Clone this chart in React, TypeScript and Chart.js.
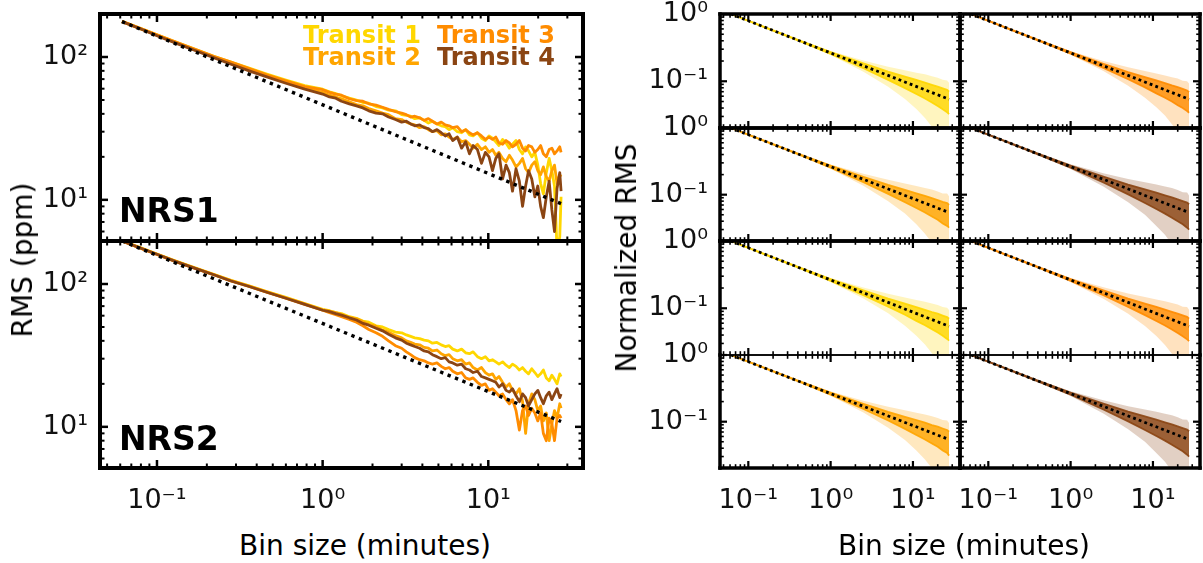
import React, { useEffect, useRef } from "react";
import { Chart, registerables } from "chart.js";

Chart.register(...registerables);

const FONT = "'DejaVu Sans', 'Liberation Sans', sans-serif";

// ---------------- data ----------------
const BIN_MIN = [
  0.0615, 0.08, 0.1, 0.13, 0.17, 0.22, 0.28, 0.36, 0.46, 0.6, 0.78, 1.0,
  1.1, 1.2, 1.3, 1.45, 1.6, 1.75, 1.9, 2.1, 2.3, 2.5, 2.75, 3.0,
  3.2, 3.4, 3.6, 3.85, 4.1, 4.35, 4.6, 4.9, 5.2, 5.5, 5.8, 6.1, 6.5, 6.9, 7.3, 7.7, 8.1, 8.6, 9.1, 9.6, 10.1,
  10.6, 11.1, 11.6, 12.2, 12.8, 13.4, 14.0, 14.7, 15.4, 16.1, 16.8, 17.5, 18.3, 19.1, 19.9, 20.7, 21.5, 22.4, 23.3, 24.2, 25.1, 26.0, 27.0, 27.5,
];

const NRS1_TRANSIT1 = [
  178, 158, 143, 127, 113, 101, 92, 83.5, 76, 69, 63, 59.5,
  57, 55.5, 53.5, 51.5, 50, 48, 47.5, 45, 44, 42.5, 42, 39.5,
  39, 38.5, 37, 37.5, 36, 34.5, 35.5, 34, 33, 32.5, 31, 32, 30, 29.5, 31, 28.5, 28, 29.5, 27, 26, 28,
  27, 25.5, 24, 26.5, 25, 23, 24.5, 26, 22.5, 21, 23.5, 22, 20, 21.5, 17.5, 13, 11, 15.5, 19.5, 16, 12.5, 4.5, 5.5, 10.5,
];
const NRS1_TRANSIT2 = [
  177, 157, 142, 126, 112, 100, 90, 81.5, 73.5, 66.5, 60.5, 56.5,
  54, 52.5, 51, 48.5, 46.5, 45.5, 43.5, 42, 40.5, 39.5, 37, 36.5,
  35, 34, 33.5, 32, 32.5, 31, 30, 30.5, 28.5, 29, 27.5, 26.5, 27.5, 25.5, 26, 24.5, 23, 24.5, 22.5, 23.5, 21.5,
  22.5, 20.5, 21.5, 19.5, 18.5, 20.5, 19, 17, 18, 19.5, 16.5, 15.5, 17.5, 18.5, 16, 15, 17, 14.5, 13.5, 16, 17.5, 13, 15, 14.5,
];
const NRS1_TRANSIT3 = [
  178, 158, 143, 127, 113, 101, 92, 83, 75, 68, 62, 59,
  56.5, 55, 54, 51, 49.5, 49, 47, 46, 44.5, 43, 41.5, 40.5,
  39.5, 38, 38.5, 37.5, 36, 37, 35.5, 34, 35, 33.5, 33, 32, 32.5, 30, 31, 29.5, 28.5, 29.5, 28, 26.5, 27.5,
  26.5, 27.5, 25, 24.5, 26, 25, 23.5, 24.5, 26, 23, 22, 24, 23.5, 21.5, 22.5, 24, 21, 20, 22.5, 23, 21, 22, 23.5, 21.5,
];
const NRS1_TRANSIT4 = [
  177, 157, 141, 125, 111, 99, 89, 80, 72.5, 65.5, 59.5, 55,
  52.5, 51.5, 49, 47, 45.5, 44, 42, 40.5, 40, 38, 36.5, 35,
  35.5, 34, 33, 33.5, 32, 31.5, 30, 31, 29.5, 28, 29, 26, 27.5, 23, 25.5, 21, 24, 22.5, 18, 21.5, 20,
  16, 19.5, 21, 14, 17.5, 15.5, 11.5, 16.5, 13.5, 9, 12.5, 16, 14, 10.5, 12.5, 9, 7.5, 10.5, 13.5, 8.5, 6, 12, 15.5, 11.5,
];

const NRS2_TRANSIT1 = [
  201, 179, 162, 145, 130, 117, 106, 97, 88.5, 80.5, 73, 66.5,
  65, 63, 62, 59, 57.5, 55, 54, 51, 50, 48, 46, 45.5,
  44, 43, 42, 41.5, 40.5, 40, 38.5, 39, 37.5, 36.5, 37, 35, 34, 35, 33, 32.5, 33.5, 31, 30, 31, 29,
  29.5, 28.5, 27.5, 28.5, 27, 26, 27.5, 26.5, 25, 26, 24.5, 23.5, 25.5, 24, 22.5, 23.5, 25, 22, 21, 23, 21.5, 20, 23.5, 22.5,
];
const NRS2_TRANSIT2 = [
  200, 178, 161.5, 144, 129, 116.5, 105.5, 96.5, 88, 80, 72.5, 66,
  64.5, 63, 61, 58.5, 57, 54.5, 52, 50.5, 47.5, 46, 43.5, 42,
  40, 39, 38, 37.5, 36, 35.5, 34, 34.5, 32.5, 31.5, 32, 30, 29, 29.5, 27.5, 28, 26, 25, 26, 24, 23,
  23.5, 21.5, 22.5, 20.5, 19, 20, 18, 17, 18.5, 15, 9, 14.5, 17, 15.5, 13, 14, 11, 12.5, 8, 10.5, 13, 11.5, 14.5, 13.5,
];
const NRS2_TRANSIT3 = [
  200, 177.5, 161, 143.5, 128.5, 116, 105, 96, 87.5, 79.5, 72, 65.5,
  63, 61, 59, 56.5, 54, 51, 48, 45.5, 43, 40, 37, 35.5,
  33.5, 32, 30.5, 29.5, 29, 28, 27.5, 28, 26.5, 25.5, 26, 24.5, 23.5, 24, 22, 21.5, 22, 20.5, 19.5, 20, 18,
  18.5, 17.5, 16.5, 17, 15.5, 14.5, 15.5, 13, 9.5, 13, 14, 12, 13.5, 12.5, 11, 12.5, 9, 8, 11.5, 10.5, 8, 11.5, 12, 11.5,
];
const NRS2_TRANSIT4 = [
  200, 178, 161.5, 143.5, 128.5, 116, 105, 96, 87.5, 79.5, 72, 65.5,
  64, 62, 60.5, 58, 56, 53, 51.5, 49, 47, 44.5, 42, 40.5,
  38.5, 37.5, 36.5, 35.5, 34, 33.5, 32, 31, 30, 30.5, 28.5, 28, 27, 27.5, 25.5, 25, 24, 24.5, 22.5, 22, 21.5,
  21, 20.5, 19, 20, 18, 17.5, 18.5, 16.5, 15, 17, 16, 14, 15.5, 17, 18, 16, 14.5, 16.5, 17.5, 15.5, 17, 18.5, 16, 17,
];

// white-noise expectation (dotted)
const WHITE_BIN = [0.0615, 27.5];
const NRS1_WHITE = [177, 9.4];
const NRS2_WHITE = [200, 10.9];
const NORM_WHITE = [1, 0.054];

// spectroscopic channels: envelope of the normalized RMS curves
const SPEC_BIN = [0.0615, 0.15, 0.4, 1, 2.5, 5, 8, 11, 14, 17, 20, 23, 26, 27.5];

const NRS1_T1_OUTER_HI = [1, 0.66, 0.421, 0.282, 0.204, 0.165, 0.146, 0.134, 0.127, 0.119, 0.113, 0.105, 0.103, 0.095];
const NRS1_T1_CORE_HI = [1, 0.656, 0.413, 0.272, 0.184, 0.139, 0.117, 0.105, 0.0956, 0.0885, 0.0832, 0.0783, 0.0745, 0.0703];
const NRS1_T1_CORE_LO = [1, 0.65, 0.405, 0.256, 0.156, 0.105, 0.079, 0.0646, 0.0553, 0.0484, 0.0428, 0.0383, 0.0345, 0.0325];
const NRS1_T1_OUTER_LO = [1, 0.646, 0.397, 0.246, 0.139, 0.083, 0.0547, 0.0386, 0.0284, 0.0211, 0.0158, 0.0118, 0.0083, 0.0065];

const NRS1_T3_OUTER_HI = [1, 0.659, 0.42, 0.28, 0.2, 0.162, 0.142, 0.13, 0.122, 0.115, 0.11, 0.102, 0.1, 0.092];
const NRS1_T3_CORE_HI = [1, 0.656, 0.413, 0.271, 0.182, 0.137, 0.115, 0.103, 0.094, 0.087, 0.082, 0.077, 0.073, 0.069];
const NRS1_T3_CORE_LO = [1, 0.65, 0.405, 0.257, 0.158, 0.107, 0.081, 0.066, 0.057, 0.05, 0.044, 0.04, 0.036, 0.034];
const NRS1_T3_OUTER_LO = [1, 0.647, 0.398, 0.248, 0.142, 0.086, 0.057, 0.041, 0.031, 0.023, 0.018, 0.013, 0.0095, 0.0075];

const NRS1_T2_OUTER_HI = [1, 0.66, 0.422, 0.283, 0.206, 0.167, 0.147, 0.135, 0.126, 0.12, 0.112, 0.104, 0.104, 0.094];
const NRS1_T2_CORE_HI = [1, 0.656, 0.413, 0.272, 0.185, 0.14, 0.118, 0.105, 0.096, 0.089, 0.083, 0.078, 0.075, 0.0705];
const NRS1_T2_CORE_LO = [1, 0.65, 0.404, 0.255, 0.154, 0.103, 0.077, 0.063, 0.054, 0.047, 0.042, 0.037, 0.034, 0.032];
const NRS1_T2_OUTER_LO = [1, 0.645, 0.396, 0.244, 0.136, 0.08, 0.052, 0.036, 0.026, 0.019, 0.0145, 0.011, 0.008, 0.006];

const NRS1_T4_OUTER_HI = [1, 0.661, 0.424, 0.287, 0.21, 0.172, 0.153, 0.142, 0.133, 0.126, 0.118, 0.109, 0.108, 0.097];
const NRS1_T4_CORE_HI = [1, 0.657, 0.414, 0.274, 0.187, 0.142, 0.12, 0.107, 0.098, 0.091, 0.085, 0.08, 0.076, 0.072];
const NRS1_T4_CORE_LO = [1, 0.649, 0.403, 0.254, 0.152, 0.101, 0.075, 0.061, 0.052, 0.045, 0.04, 0.036, 0.032, 0.03];
const NRS1_T4_OUTER_LO = [1, 0.644, 0.394, 0.242, 0.133, 0.077, 0.05, 0.034, 0.025, 0.018, 0.014, 0.0105, 0.0075, 0.006];

const NRS2_T1_OUTER_HI = [1, 0.66, 0.421, 0.281, 0.203, 0.164, 0.145, 0.133, 0.125, 0.118, 0.112, 0.104, 0.102, 0.094];
const NRS2_T1_CORE_HI = [1, 0.656, 0.413, 0.272, 0.184, 0.139, 0.117, 0.104, 0.095, 0.088, 0.083, 0.078, 0.074, 0.07];
const NRS2_T1_CORE_LO = [1, 0.65, 0.405, 0.256, 0.157, 0.106, 0.08, 0.065, 0.056, 0.049, 0.0435, 0.039, 0.035, 0.033];
const NRS2_T1_OUTER_LO = [1, 0.646, 0.397, 0.246, 0.14, 0.084, 0.055, 0.039, 0.029, 0.0215, 0.016, 0.012, 0.0085, 0.0065];

const NRS2_T3_OUTER_HI = [1, 0.66, 0.421, 0.282, 0.205, 0.166, 0.147, 0.135, 0.127, 0.12, 0.114, 0.105, 0.104, 0.095];
const NRS2_T3_CORE_HI = [1, 0.656, 0.413, 0.272, 0.184, 0.139, 0.117, 0.105, 0.0956, 0.0885, 0.0832, 0.0783, 0.0745, 0.0703];
const NRS2_T3_CORE_LO = [1, 0.65, 0.405, 0.256, 0.156, 0.105, 0.079, 0.0646, 0.0553, 0.0484, 0.0428, 0.0383, 0.0345, 0.0325];
const NRS2_T3_OUTER_LO = [1, 0.646, 0.397, 0.246, 0.139, 0.083, 0.0547, 0.0386, 0.0284, 0.0211, 0.0158, 0.0118, 0.0083, 0.0065];

const NRS2_T2_OUTER_HI = [1, 0.66, 0.422, 0.283, 0.206, 0.167, 0.148, 0.136, 0.128, 0.121, 0.114, 0.106, 0.104, 0.095];
const NRS2_T2_CORE_HI = [1, 0.656, 0.413, 0.273, 0.185, 0.14, 0.118, 0.106, 0.097, 0.089, 0.084, 0.079, 0.075, 0.071];
const NRS2_T2_CORE_LO = [1, 0.65, 0.404, 0.255, 0.155, 0.104, 0.078, 0.063, 0.054, 0.047, 0.042, 0.037, 0.034, 0.031];
const NRS2_T2_OUTER_LO = [1, 0.645, 0.396, 0.244, 0.137, 0.081, 0.053, 0.037, 0.027, 0.02, 0.015, 0.011, 0.008, 0.006];

const NRS2_T4_OUTER_HI = [1, 0.661, 0.423, 0.286, 0.209, 0.171, 0.152, 0.141, 0.132, 0.125, 0.117, 0.108, 0.107, 0.096];
const NRS2_T4_CORE_HI = [1, 0.657, 0.414, 0.274, 0.187, 0.142, 0.12, 0.107, 0.098, 0.091, 0.085, 0.08, 0.076, 0.072];
const NRS2_T4_CORE_LO = [1, 0.649, 0.403, 0.254, 0.152, 0.101, 0.075, 0.061, 0.052, 0.045, 0.04, 0.036, 0.032, 0.03];
const NRS2_T4_OUTER_LO = [1, 0.644, 0.394, 0.242, 0.133, 0.077, 0.05, 0.034, 0.025, 0.018, 0.014, 0.0105, 0.0075, 0.006];

const TRANSIT_NAMES = ["Transit 1", "Transit 2", "Transit 3", "Transit 4"];
const TRANSIT_COLORS = ["#FFD700", "#FFA500", "#FF8C00", "#8B4513"];

const X_TICKS = [0.1, 1, 10];
const X_TICK_LABELS = ["10\u207B\u00B9", "10\u2070", "10\u00B9"];
const RMS_Y_TICKS = [10, 100];
const RMS_Y_TICK_LABELS = ["10\u00B9", "10\u00B2"];
const NORM_Y_TICKS = [0.1, 1];
const NORM_Y_TICK_LABELS = ["10\u207B\u00B9", "10\u2070"];

const X_RANGE = [0.0453, 37.3];
const RMS_Y_RANGE = [5.15, 200];
const NORM_Y_RANGE = [0.0202, 1.0];

// ---------------- layout ----------------
const AXIS_W = 110;
const AXIS_H = 60;
const PAD_T = 40;
const PAD_R = 30;
const TICK_FONT = 27;

type Rect = { l: number; t: number; r: number; b: number };
type AxStyle = {
  spine: { top: number; right: number; bottom: number; left: number };
  majLen: number;
  minLen: number;
  majW: number;
  minW: number;
};

function pts(xs: number[], ys: number[]) {
  return xs.map((x, i) => ({ x, y: ys[i] }));
}

function rgba(hex: string, a: number) {
  const n = parseInt(hex.slice(1), 16);
  return `rgba(${(n >> 16) & 255},${(n >> 8) & 255},${n & 255},${a})`;
}

function logTicks(min: number, max: number) {
  const out: { v: number; major: boolean }[] = [];
  for (let e = Math.floor(Math.log10(min)); e <= Math.ceil(Math.log10(max)); e++) {
    for (let k = 1; k <= 9; k++) {
      const v = k * Math.pow(10, e);
      if (v >= min * 0.999 && v <= max * 1.001) out.push({ v, major: k === 1 });
    }
  }
  return out;
}

const mplAxes = {
  id: "mplAxes",
  afterDatasetsDraw(chart: any, _args: any, o: any) {
    const { ctx, chartArea: a } = chart;
    const xs = chart.scales.x;
    const ys = chart.scales.y;
    ctx.save();
    ctx.strokeStyle = "#000";
    const seg = (x1: number, y1: number, x2: number, y2: number, w: number) => {
      if (w <= 0) return;
      ctx.lineWidth = w;
      ctx.beginPath();
      ctx.moveTo(x1, y1);
      ctx.lineTo(x2, y2);
      ctx.stroke();
    };
    ctx.lineCap = "butt";
    for (const t of logTicks(xs.min, xs.max)) {
      const p = xs.getPixelForValue(t.v);
      const L = t.major ? o.majLen : o.minLen;
      const w = t.major ? o.majW : o.minW;
      seg(p, a.bottom, p, a.bottom - L, w);
      seg(p, a.top, p, a.top + L, w);
    }
    for (const t of logTicks(ys.min, ys.max)) {
      const p = ys.getPixelForValue(t.v);
      const L = t.major ? o.majLen : o.minLen;
      const w = t.major ? o.majW : o.minW;
      seg(a.left, p, a.left + L, p, w);
      seg(a.right, p, a.right - L, p, w);
    }
    ctx.lineCap = "square";
    const s = o.spine;
    seg(a.left, a.top, a.right, a.top, s.top);
    seg(a.left, a.bottom, a.right, a.bottom, s.bottom);
    seg(a.left, a.top, a.left, a.bottom, s.left);
    seg(a.right, a.top, a.right, a.bottom, s.right);
    ctx.restore();
  },
};

type PanelSpec = {
  key: string;
  rect: Rect;
  datasets: any[];
  yRange: number[];
  yTicks: number[];
  yLabels: string[] | null;
  xLabels: string[] | null;
  style: AxStyle;
};

function rmsDatasets(series: number[][], white: number[]) {
  const ds: any[] = [
    {
      data: pts(WHITE_BIN, white),
      borderColor: "#000",
      borderWidth: 3.4,
      borderDash: [3.4, 4.6],
      borderCapStyle: "butt",
    },
  ];
  for (let i = 3; i >= 0; i--) {
    ds.push({
      label: TRANSIT_NAMES[i],
      data: pts(BIN_MIN, series[i]),
      borderColor: TRANSIT_COLORS[i],
      borderWidth: 2.8,
      borderJoinStyle: "round",
    });
  }
  return ds;
}

function normDatasets(env: number[][], color: string) {
  const [outerHi, coreHi, coreLo, outerLo] = env;
  const clear = "rgba(0,0,0,0)";
  return [
    {
      data: pts(WHITE_BIN, NORM_WHITE),
      borderColor: "#000",
      borderWidth: 2.8,
      borderDash: [2.8, 3.2],
      borderCapStyle: "butt",
    },
    { data: pts(SPEC_BIN, coreHi), borderColor: rgba(color, 0.9), borderWidth: 1.8, backgroundColor: rgba(color, 0.8), fill: 2 },
    { data: pts(SPEC_BIN, coreLo), borderColor: rgba(color, 0.9), borderWidth: 1.8, fill: false },
    { data: pts(SPEC_BIN, outerHi), borderColor: clear, borderWidth: 1, backgroundColor: rgba(color, 0.25), fill: 4 },
    { data: pts(SPEC_BIN, outerLo), borderColor: clear, borderWidth: 1, fill: false },
  ];
}

const LEFT_STYLE: AxStyle = { spine: { top: 4, right: 4, bottom: 4, left: 4 }, majLen: 8, minLen: 4.5, majW: 2.5, minW: 2 };
const gridStyle = (top: number, bottom: number): AxStyle => ({
  spine: { top, right: 3.5, bottom, left: 3.5 },
  majLen: 7,
  minLen: 3.8,
  majW: 2.2,
  minW: 1.6,
});

const COLS = [
  [720, 960],
  [960, 1200],
];
const ROWS = [14, 128, 241, 355, 468];

const GRID_ENVS = [
  [
    { env: [NRS1_T1_OUTER_HI, NRS1_T1_CORE_HI, NRS1_T1_CORE_LO, NRS1_T1_OUTER_LO], c: 0 },
    { env: [NRS1_T3_OUTER_HI, NRS1_T3_CORE_HI, NRS1_T3_CORE_LO, NRS1_T3_OUTER_LO], c: 2 },
  ],
  [
    { env: [NRS1_T2_OUTER_HI, NRS1_T2_CORE_HI, NRS1_T2_CORE_LO, NRS1_T2_OUTER_LO], c: 1 },
    { env: [NRS1_T4_OUTER_HI, NRS1_T4_CORE_HI, NRS1_T4_CORE_LO, NRS1_T4_OUTER_LO], c: 3 },
  ],
  [
    { env: [NRS2_T1_OUTER_HI, NRS2_T1_CORE_HI, NRS2_T1_CORE_LO, NRS2_T1_OUTER_LO], c: 0 },
    { env: [NRS2_T3_OUTER_HI, NRS2_T3_CORE_HI, NRS2_T3_CORE_LO, NRS2_T3_OUTER_LO], c: 2 },
  ],
  [
    { env: [NRS2_T2_OUTER_HI, NRS2_T2_CORE_HI, NRS2_T2_CORE_LO, NRS2_T2_OUTER_LO], c: 1 },
    { env: [NRS2_T4_OUTER_HI, NRS2_T4_CORE_HI, NRS2_T4_CORE_LO, NRS2_T4_OUTER_LO], c: 3 },
  ],
];

const PANELS: PanelSpec[] = [
  {
    key: "nrs1",
    rect: { l: 100, t: 14, r: 583, b: 241 },
    datasets: rmsDatasets([NRS1_TRANSIT1, NRS1_TRANSIT2, NRS1_TRANSIT3, NRS1_TRANSIT4], NRS1_WHITE),
    yRange: RMS_Y_RANGE,
    yTicks: RMS_Y_TICKS,
    yLabels: RMS_Y_TICK_LABELS,
    xLabels: null,
    style: LEFT_STYLE,
  },
  {
    key: "nrs2",
    rect: { l: 100, t: 241, r: 583, b: 468 },
    datasets: rmsDatasets([NRS2_TRANSIT1, NRS2_TRANSIT2, NRS2_TRANSIT3, NRS2_TRANSIT4], NRS2_WHITE),
    yRange: RMS_Y_RANGE,
    yTicks: RMS_Y_TICKS,
    yLabels: RMS_Y_TICK_LABELS,
    xLabels: X_TICK_LABELS,
    style: LEFT_STYLE,
  },
];

GRID_ENVS.forEach((row, ri) => {
  row.forEach((cell, ci) => {
    const top = ri === 3 ? 1.5 : 3.5;
    const bottom = ri === 2 ? 1.5 : 3.5;
    PANELS.push({
      key: `g${ri}${ci}`,
      rect: { l: COLS[ci][0], t: ROWS[ri], r: COLS[ci][1], b: ROWS[ri + 1] },
      datasets: normDatasets(cell.env, TRANSIT_COLORS[cell.c]),
      yRange: NORM_Y_RANGE,
      yTicks: NORM_Y_TICKS,
      yLabels: ci === 0 ? NORM_Y_TICK_LABELS : null,
      xLabels: ri === 3 ? X_TICK_LABELS : null,
      style: gridStyle(top, bottom),
    });
  });
});

function buildConfig(spec: PanelSpec): any {
  const zeroPad = (s: any) => {
    s.paddingLeft = 0;
    s.paddingRight = 0;
    s.paddingTop = 0;
    s.paddingBottom = 0;
  };
  return {
    type: "line",
    data: { datasets: spec.datasets },
    options: {
      animation: false,
      responsive: false,
      devicePixelRatio: 1,
      events: [],
      layout: { padding: { top: PAD_T, right: PAD_R, left: 0, bottom: 0 } },
      elements: { point: { radius: 0 }, line: { tension: 0 } },
      plugins: {
        legend: { display: false },
        tooltip: { enabled: false },
        mplAxes: spec.style,
      },
      scales: {
        x: {
          type: "logarithmic",
          position: "bottom",
          min: X_RANGE[0],
          max: X_RANGE[1],
          bounds: "data",
          grid: { display: false, drawTicks: false },
          border: { display: false },
          afterBuildTicks: (s: any) => {
            s.ticks = X_TICKS.map((v) => ({ value: v }));
          },
          afterFit: (s: any) => {
            s.height = AXIS_H;
            zeroPad(s);
          },
          ticks: {
            autoSkip: false,
            maxRotation: 0,
            minRotation: 0,
            padding: 17,
            color: "#111",
            font: { family: FONT, size: TICK_FONT },
            callback: (_v: any, i: number) => (spec.xLabels ? spec.xLabels[i] : ""),
          },
        },
        y: {
          type: "logarithmic",
          position: "left",
          min: spec.yRange[0],
          max: spec.yRange[1],
          bounds: "data",
          grid: { display: false, drawTicks: false },
          border: { display: false },
          afterBuildTicks: (s: any) => {
            s.ticks = spec.yTicks.map((v) => ({ value: v }));
          },
          afterFit: (s: any) => {
            s.width = AXIS_W;
            zeroPad(s);
          },
          ticks: {
            autoSkip: false,
            padding: 12,
            color: "#111",
            font: { family: FONT, size: TICK_FONT },
            callback: (_v: any, i: number) => (spec.yLabels ? spec.yLabels[i] : ""),
          },
        },
      },
    },
    plugins: [mplAxes],
  };
}

function Panel({ spec }: { spec: PanelSpec }) {
  const ref = useRef<HTMLCanvasElement>(null);
  const { l, t, r, b } = spec.rect;
  const w = r - l + AXIS_W + PAD_R;
  const h = b - t + PAD_T + AXIS_H;
  useEffect(() => {
    const chart = new Chart(ref.current as HTMLCanvasElement, buildConfig(spec));
    return () => chart.destroy();
  }, [spec]);
  return (
    <canvas
      ref={ref}
      width={w}
      height={h}
      style={{ position: "absolute", left: l - AXIS_W, top: t - PAD_T, width: w, height: h }}
    />
  );
}

const ASC = 0.846; // baseline offset for line-height: 1 with DejaVu Sans

function Label({ text, x, baseline, size, bold, color, center }: any) {
  return (
    <div
      style={{
        position: "absolute",
        left: x,
        top: baseline - ASC * size,
        fontSize: size,
        lineHeight: `${size}px`,
        fontWeight: bold ? "bold" : "normal",
        color: color || "#000",
        whiteSpace: "nowrap",
        transform: center ? "translateX(-50%)" : undefined,
      }}
    >
      {text}
    </div>
  );
}

function VLabel({ text, cx, cy, size }: any) {
  return (
    <div
      style={{
        position: "absolute",
        left: cx,
        top: cy,
        fontSize: size,
        lineHeight: `${size}px`,
        whiteSpace: "nowrap",
        color: "#000",
        transform: "translate(-50%, -50%) rotate(-90deg)",
      }}
    >
      {text}
    </div>
  );
}

export default function App() {
  return (
    <div
      style={{
        position: "absolute",
        left: 0,
        top: 0,
        width: 1203,
        height: 563,
        background: "#fff",
        overflow: "hidden",
        fontFamily: FONT,
      }}
    >
      {PANELS.map((p) => (
        <Panel key={p.key} spec={p} />
      ))}
      <Label text={TRANSIT_NAMES[0]} x={303} baseline={43.3} size={24} bold color={TRANSIT_COLORS[0]} />
      <Label text={TRANSIT_NAMES[2]} x={437} baseline={43.3} size={24} bold color={TRANSIT_COLORS[2]} />
      <Label text={TRANSIT_NAMES[1]} x={303} baseline={65} size={24} bold color={TRANSIT_COLORS[1]} />
      <Label text={TRANSIT_NAMES[3]} x={437} baseline={65} size={24} bold color={TRANSIT_COLORS[3]} />
      <Label text="NRS1" x={119} baseline={221.7} size={33} bold />
      <Label text="NRS2" x={119} baseline={450} size={33} bold />
      <Label text="Bin size (minutes)" x={365} baseline={556} size={28} center />
      <Label text="Bin size (minutes)" x={964} baseline={556} size={28} center />
      <VLabel text="RMS (ppm)" cx={23.3} cy={260} size={28} />
      <VLabel text="Normalized RMS" cx={627.3} cy={258} size={28} />
    </div>
  );
}
